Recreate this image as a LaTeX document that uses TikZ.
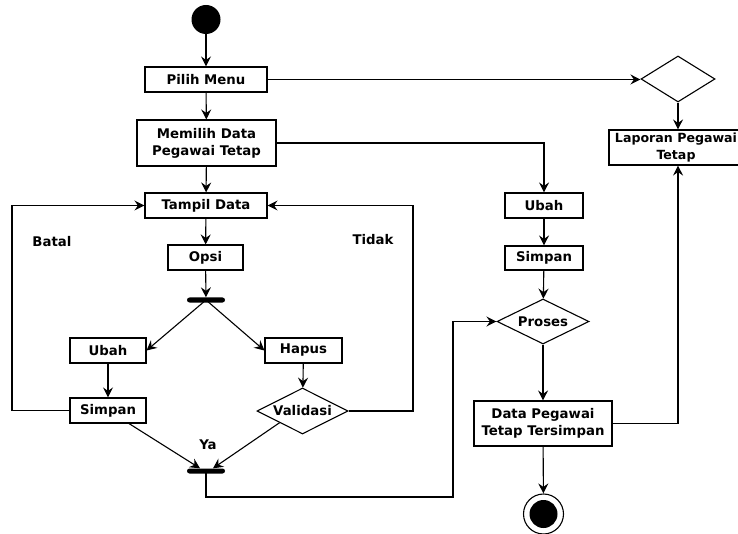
\documentclass[tikz,border=0pt]{standalone}
\usepackage{fontspec}
\setmainfont{DejaVu Sans}
\usetikzlibrary{shapes.geometric,arrows.meta}
\begin{document}
\begin{tikzpicture}[x=1pt,y=-1pt,
  every node/.style={font=\bfseries\fontsize{13.3}{17}\selectfont, inner sep=0pt, align=center},
  act/.style={draw, line width=1.1pt, rectangle},
  dia/.style={draw, line width=1.1pt, diamond},
  bar/.style={fill=black, rectangle, rounded corners=2.5pt, minimum width=38pt, minimum height=5pt},
  arr/.style={line width=1.1pt, -{Stealth[length=10pt,width=10pt,inset=3.5pt]}},
  ln/.style={line width=1.1pt}]
\useasboundingbox (0,0) rectangle (738,534);
\clip (0,0) rectangle (738,534);
% nodes
\node[circle, fill=black, minimum size=29pt] (start) at (206,19.5) {};
\node[act, minimum width=122pt, minimum height=25pt] (pilih) at (206,79.5) {Pilih Menu};
\node[act, minimum width=139pt, minimum height=46pt] (memilih) at (206.5,143) {Memilih Data\\Pegawai Tetap};
\node[act, minimum width=122pt, minimum height=25pt] (tampil) at (206,205.5) {Tampil Data};
\node[act, minimum width=75pt, minimum height=25pt] (opsi) at (205.5,257.5) {Opsi};
\node[bar] (fork1) at (206,300) {};
\node[act, minimum width=76pt, minimum height=25pt] (ubahL) at (108,350.5) {Ubah};
\node[act, minimum width=77pt, minimum height=25pt] (hapus) at (303.5,350.5) {Hapus};
\node[act, minimum width=76pt, minimum height=25pt] (simpanL) at (108,410.5) {Simpan};
\node[dia, minimum width=91pt, minimum height=46pt] (validasi) at (302.5,411) {\makebox[0pt]{Validasi}};
\node[bar] (fork2) at (206,471) {};
\node[act, minimum width=78pt, minimum height=25pt] (ubahR) at (544,205.5) {Ubah};
\node[act, minimum width=78pt, minimum height=24pt] (simpanR) at (544,258) {Simpan};
\node[dia, minimum width=92pt, minimum height=45pt] (proses) at (543,321.5) {\makebox[0pt]{Proses}};
\node[act, minimum width=138pt, minimum height=45pt] (data) at (543,423.5) {Data Pegawai\\Tetap Tersimpan};
\node[circle, draw, line width=1.1pt, minimum size=40pt] (end) at (543.5,514) {};
\node[circle, fill=black, minimum size=28pt] (endin) at (end.center) {};
\node[dia, minimum width=74pt, minimum height=46pt] (dec) at (678,79) {};
\node[act, minimum width=134pt, minimum height=35pt, font=\bfseries\fontsize{12.6}{17}\selectfont] (lap) at (676,147.5) {Laporan Pegawai\\Tetap};
% labels
\node (batal) at (52,242) {Batal};
\node (tidak) at (373,240) {Tidak};
\node (ya) at (208,445) {Ya};
% coordinates
\coordinate (lx) at (12,0);
\coordinate (rx) at (413,0);
\coordinate (rb) at (453,497);
% edges
\draw[arr] (start) -- (pilih);
\draw[arr] (pilih) -- (memilih);
\draw[arr] (memilih) -- (tampil);
\draw[arr] (tampil) -- (opsi);
\draw[arr] (opsi) -- (fork1);
\draw[arr] (fork1.center) -- (ubahL.east);
\draw[arr] (fork1.center) -- (hapus.west);
\draw[arr] (ubahL) -- (simpanL);
\draw[arr] (hapus) -- (validasi);
\draw[arr] ([xshift=21pt]simpanL.south) -- ([xshift=-6pt]fork2.north);
\draw[arr] (validasi.south west) -- ([xshift=7pt]fork2.north);
\draw[arr] (simpanL.west) -- (simpanL.west -| lx) |- (tampil.west);
\draw[arr] (validasi.east) -- (validasi.east -| rx) |- (tampil.east);
\draw[arr] (fork2.center) |- (rb) |- (proses.west);
\draw[arr] (memilih.east) -| (ubahR.north);
\draw[arr] (ubahR) -- (simpanR);
\draw[arr] (simpanR) -- (proses);
\draw[arr] (proses) -- (data);
\draw[arr] (data) -- (end);
\draw[arr] (pilih.east) -- (pilih.east -| dec.west);
\draw[arr] (dec) -- (dec.south |- lap.north);
\draw[arr] (data.east) -| (dec.south |- lap.south);
\end{tikzpicture}
\end{document}
